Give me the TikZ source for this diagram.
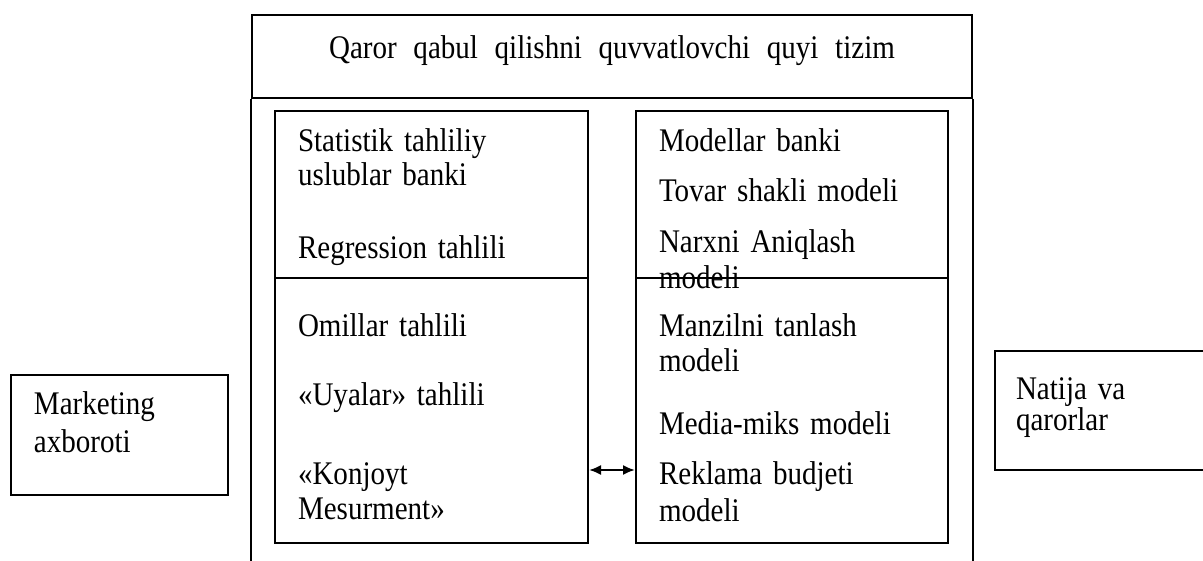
\documentclass[tikz,border=0pt]{standalone}
\usepackage{fontspec}
\setmainfont{Liberation Serif}[WordSpace=1.5,FakeStretch=0.88]
\newfontfamily\headfont{Liberation Serif}[WordSpace=2.3,FakeStretch=0.88]
\usetikzlibrary{arrows.meta}
\begin{document}
\begin{tikzpicture}[x=1pt,y=-1pt,line width=2pt,
  box/.style={draw,line width=2pt,inner sep=0pt,anchor=north west},
  txt/.style={anchor=base west,inner sep=0pt,font=\fontsize{33}{38}\selectfont},
  ctxt/.style={anchor=base,inner sep=0pt,font=\headfont\fontsize{33}{38}\selectfont},
  >={Latex[length=12pt,width=10pt]}]
\useasboundingbox (0,0) rectangle (1203,561);

% helper levels
\coordinate (bottom) at (0,561);
\coordinate (divy) at (0,278);
\coordinate (arry) at (0,470);

% outer subsystem frame, open at the bottom
\node[box,minimum width=720pt,minimum height=83pt] (head) at (251,14) {};
\node[ctxt] (title) at (612,59) {Qaror qabul qilishni quvvatlovchi quyi tizim};
\draw (head.south west) -- (head.south west |- bottom);
\draw (head.south east) -- (head.south east |- bottom);

% left bank: statistical methods
\node[box,minimum width=313pt,minimum height=432pt] (lbox) at (274,110) {};
\draw (lbox.west |- divy) -- (lbox.east |- divy);
\node[txt] (l1) at (297,152) {Statistik tahliliy};
\node[txt] (l2) at (297,186) {uslublar banki};
\node[txt] (l3) at (297,259) {Regression tahlili};
\node[txt] (l4) at (297,337) {Omillar tahlili};
\node[txt] (l5) at (297,406) {«Uyalar» tahlili};
\node[txt] (l6) at (297,484) {«Konjoyt};
\node[txt] (l7) at (297,519) {Mesurment»};

% right bank: models
\node[box,minimum width=312pt,minimum height=432pt] (rbox) at (635,110) {};
\draw (rbox.west |- divy) -- (rbox.east |- divy);
\node[txt] (r1) at (658,152) {Modellar banki};
\node[txt] (r2) at (658,202) {Tovar shakli modeli};
\node[txt] (r3) at (658,253) {Narxni Aniqlash};
\node[txt] (r4) at (658,289) {modeli};
\node[txt] (r5) at (658,337) {Manzilni tanlash};
\node[txt] (r6) at (658,372) {modeli};
\node[txt] (r7) at (658,435) {Media-miks modeli};
\node[txt] (r8) at (658,484) {Reklama budjeti};
\node[txt] (r9) at (658,521) {modeli};

% link between the two banks
\draw[<->] (lbox.east |- arry) -- (rbox.west |- arry);

% input and output boxes
\node[box,minimum width=217pt,minimum height=120pt] (mbox) at (10,374) {};
\node[txt] (m1) at (33,415) {Marketing};
\node[txt] (m2) at (33,452) {axboroti};

\node[box,minimum width=230pt,minimum height=119pt] (nbox) at (994,350) {};
\node[txt] (n1) at (1015,400) {Natija va};
\node[txt] (n2) at (1015,431) {qarorlar};
\end{tikzpicture}
\end{document}
